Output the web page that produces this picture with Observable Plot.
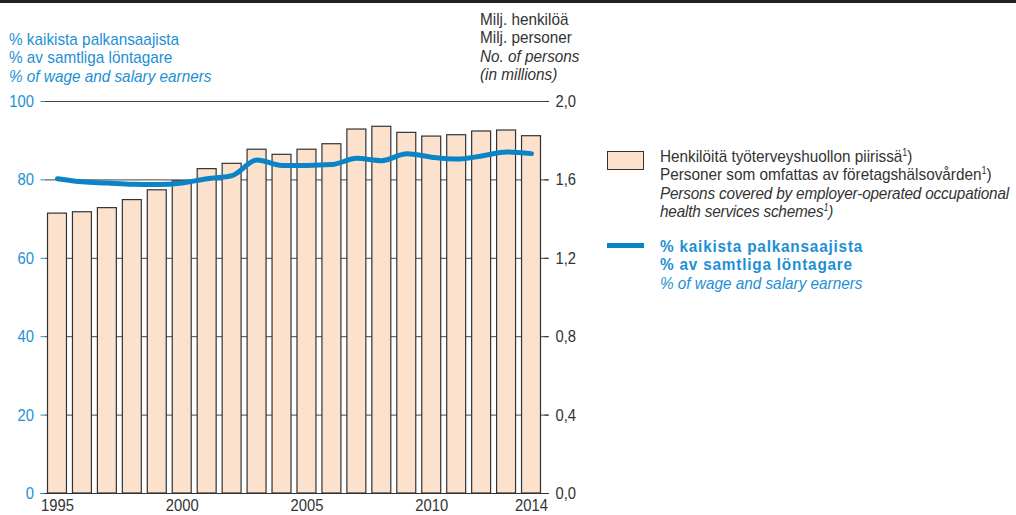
<!DOCTYPE html>
<html>
<head>
<meta charset="utf-8">
<script src="https://cdn.jsdelivr.net/npm/d3@7"></script>
<script src="https://cdn.jsdelivr.net/npm/@observablehq/plot@0.6"></script>
<style>
  html, body { margin: 0; padding: 0; background: #fff; }
  #wrap { position: relative; width: 1016px; height: 515px; overflow: hidden;
    font-family: "Liberation Sans", Arial, sans-serif; font-size: 17px; color: #333; }
  #wrap svg { position: absolute; left: 0; top: 0; }
  .topbar { position: absolute; left: 0; top: 0; width: 1016px; height: 3px; background: #222; }
  .blk { position: absolute; line-height: 18.3px; white-space: nowrap; transform: scaleX(0.9); transform-origin: 0 0; }
  .blue { color: #1e8fd5; }
  .it { font-style: italic; }
  .b { font-weight: bold; letter-spacing: 0.9px; }
  .tight { letter-spacing: -0.2px; }
  .box { position: absolute; left: 607px; top: 151px; width: 35px; height: 17px; background: #fce1cc; border: 1.3px solid #333; }
  .lline { position: absolute; left: 607px; top: 243px; width: 37px; height: 5px; background: #0a84c6; }
  sup { font-size: 10px; vertical-align: 6px; line-height: 0; }
</style>
</head>
<body>
<div id="wrap">
  <div class="topbar"></div>
  <div class="blk blue" style="left:9px; top:31px;">% kaikista palkansaajista<br>% av samtliga löntagare<br><span class="it">% of wage and salary earners</span></div>
  <div class="blk" style="left:480px; top:11px;">Milj. henkilöä<br>Milj. personer<br><span class="it">No. of persons</span><br><span class="it">(in millions)</span></div>
  <div class="box"></div>
  <div class="blk" style="left:660px; top:148px;">Henkilöitä työterveyshuollon piirissä<sup>1</sup>)<br>Personer som omfattas av företagshälsovården<sup>1</sup>)<br><span class="it tight">Persons covered by employer-operated occupational<br>health services schemes<sup>1</sup>)</span></div>
  <div class="lline"></div>
  <div class="blk blue" style="left:660px; top:238px;"><span class="b">% kaikista palkansaajista<br>% av samtliga löntagare</span><br><span class="it">% of wage and salary earners</span></div>
</div>
<script>
const years = [1995,1996,1997,1998,1999,2000,2001,2002,2003,2004,2005,2006,2007,2008,2009,2010,2011,2012,2013,2014];
// Persons covered (millions) - right axis
const personsMillions = [1.428,1.435,1.456,1.497,1.547,1.593,1.655,1.682,1.754,1.728,1.754,1.782,1.857,1.871,1.840,1.821,1.828,1.847,1.852,1.823];
// % of wage and salary earners - left axis
const percentEarners = [80.3,79.5,79.2,78.9,78.8,79.2,80.3,81.1,85.1,83.7,83.7,83.9,85.5,84.9,86.7,85.8,85.3,86.1,87.1,86.7];
const leftTicks = [0,20,40,60,80,100];
const rightTicks = [0,0.4,0.8,1.2,1.6,2.0];
const xTickYears = [1995,2000,2005,2010,2014];

const scaleFactor = 100 / 2.0; // 2,0 million on right axis == 100 % on left axis
const data = years.map((y, i) => ({year: y, persons: personsMillions[i], pct: percentEarners[i]}));

const chart = Plot.plot({
  width: 1016,
  height: 515,
  marginLeft: 44.5,
  marginRight: 472.5,
  marginTop: 101,
  marginBottom: 22,
  style: {fontFamily: '"Liberation Sans", Arial, sans-serif', fontSize: "17px", background: "transparent"},
  x: {type: "band", domain: years, paddingInner: 0.24, paddingOuter: 0.12, align: 0.5, round: false},
  y: {domain: [0, 100]},
  marks: [
    Plot.ruleY(leftTicks.filter(d => d > 0), {stroke: "#444", strokeWidth: 1, insetRight: -4.5}),
    Plot.barY(data, {x: "year", y: d => d.persons * scaleFactor, fill: "#fce1cc", stroke: "#333", strokeWidth: 1.2}),
    Plot.ruleY([0], {stroke: "#333", strokeWidth: 1.2, insetLeft: -4, insetRight: -4.5}),
    Plot.lineY(data, {x: "year", y: "pct", stroke: "#0a84c6", strokeWidth: 5, curve: "monotone-x"}),
    Plot.axisY(leftTicks, {anchor: "left", tickSize: 4, tickPadding: 7, color: "#1e8fd5", label: null, fontSize: 17}),
    Plot.axisY(rightTicks.map(d => d * scaleFactor), {anchor: "right", tickSize: 4.5, tickPadding: 7, color: "#333", label: null, fontSize: 17,
      tickFormat: d => (d / scaleFactor).toFixed(1).replace(".", ",")}),
    Plot.axisX(xTickYears, {tickSize: 0, tickPadding: 5, color: "#333", label: null, fontSize: 17, tickFormat: d => String(d)})
  ]
});
document.getElementById("wrap").prepend(chart);

// condense tick label glyphs horizontally (narrow typeface look), keeping anchors in place
d3.select(chart).selectAll("g[aria-label$='tick label'] text").each(function () {
  const el = d3.select(this);
  const tr = el.attr("transform");
  if (tr) {
    el.attr("transform", tr + " scale(0.87,1)");
  } else {
    const x = +el.attr("x") || 0, y = +el.attr("y") || 0;
    el.attr("x", null).attr("y", null).attr("transform", `translate(${x},${y}) scale(0.87,1)`);
  }
});
</script>
</body>
</html>
